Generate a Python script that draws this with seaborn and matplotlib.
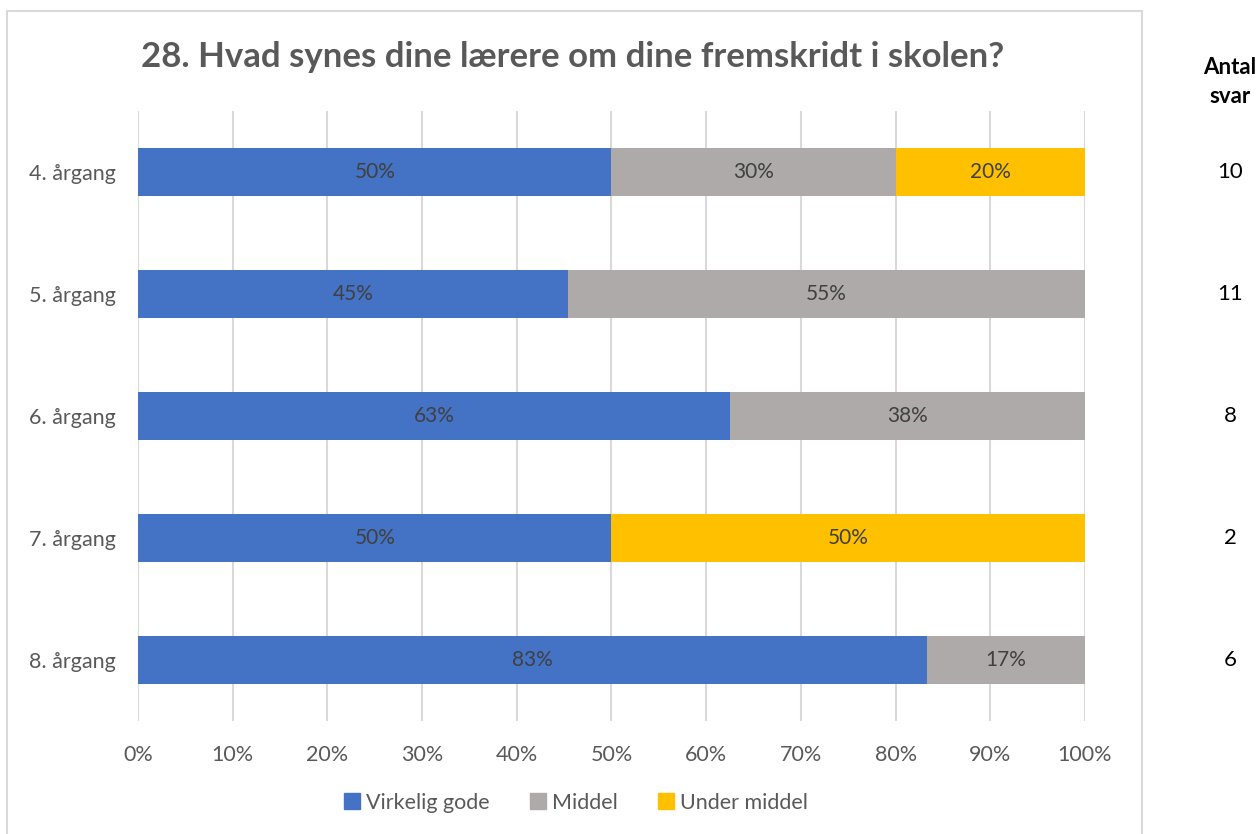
import matplotlib.pyplot as plt
import matplotlib.transforms as mtransforms
from matplotlib.patches import Rectangle
from matplotlib.lines import Line2D
import pandas as pd
import seaborn as sns

# Data (answers per grade)
grades = ['4. årgang', '5. årgang', '6. årgang', '7. årgang', '8. årgang']
antal_svar = [10, 11, 8, 2, 6]
virkelig_gode = [5, 5, 5, 1, 5]
middel = [3, 6, 3, 0, 1]
under_middel = [2, 0, 0, 1, 0]

series_names = ['Virkelig gode', 'Middel', 'Under middel']
colors = ['#4472C4', '#AEAAAA', '#FFC000']
text_col = '#595959'

df = pd.DataFrame({'grade': grades, 'n': antal_svar,
                   'Virkelig gode': virkelig_gode, 'Middel': middel,
                   'Under middel': under_middel})
for s in series_names:
    df[s] = df[s] / df['n'] * 100
# cumulative values for stacking
cum = df[series_names].cumsum(axis=1)

sns.set_theme(style='white')
plt.rcParams['font.family'] = ['Lato', 'DejaVu Sans']

fig = plt.figure(figsize=(12.59, 8.34), dpi=100)
ax = fig.add_axes([0.1096, 0.1355, 0.7522, 0.7314])

# draw from the full stack down so each layer covers the previous
for s, c in reversed(list(zip(series_names, colors))):
    sns.barplot(x=cum[s], y=df['grade'], color=c, width=0.4, ax=ax,
                orient='h', saturation=1, linewidth=0, zorder=3)

# segment labels
for i in range(len(grades)):
    for s in series_names:
        v = df.loc[i, s]
        if v > 0:
            center = cum.loc[i, s] - v / 2
            ax.text(center, i, f'{int(v + 0.5)}%', ha='center', va='center',
                    fontsize=15, color='#404040', zorder=4)

ax.set_xlim(0, 100)
ax.set_ylim(len(grades) - 0.5, -0.5)
ax.set_xticks(range(0, 101, 10))
ax.set_xticklabels([f'{t}%' for t in range(0, 101, 10)])
ax.grid(axis='x', color='#D9D9D9', linewidth=1.5, zorder=0)
ax.grid(axis='y', visible=False)
for sp in ax.spines.values():
    sp.set_visible(False)
ax.tick_params(axis='both', length=0, labelsize=15.5, labelcolor=text_col)
ax.tick_params(axis='x', pad=17)
ax.tick_params(axis='y', pad=16)
ax.set_xlabel('')
ax.set_ylabel('')

# chart frame
fig.patches.append(Rectangle((7 / 1259, -0.05), (1142 - 7) / 1259, 1.05 - 11 / 834,
                             transform=fig.transFigure, fill=False,
                             edgecolor='#D9D9D9', linewidth=1.5))

fig.text(573 / 1259, 1 - 57 / 834, '28. Hvad synes dine lærere om dine fremskridt i skolen?',
         ha='center', va='center', fontsize=25, fontweight='bold', color=text_col)

# legend
handles = [Line2D([], [], marker='s', linestyle='', markersize=12, color=c)
           for c in colors]
fig.legend(handles, series_names, loc='center', bbox_to_anchor=(576 / 1259, 31 / 834),
           ncol=3, frameon=False, fontsize=15.5, labelcolor=text_col,
           handlelength=0.7, handletextpad=0.3, columnspacing=1.9)

# antal svar column
fig.text(1230 / 1259, 1 - 82 / 834, 'Antal\nsvar', ha='center', va='center',
         fontsize=16, fontweight='bold', color='black', linespacing=1.45)
trans = mtransforms.blended_transform_factory(fig.transFigure, ax.transData)
for i, n in enumerate(antal_svar):
    ax.text(1230 / 1259, i, str(n), transform=trans, ha='center', va='center',
            fontsize=16, color='black')

fig.savefig('out.png', dpi=100)
